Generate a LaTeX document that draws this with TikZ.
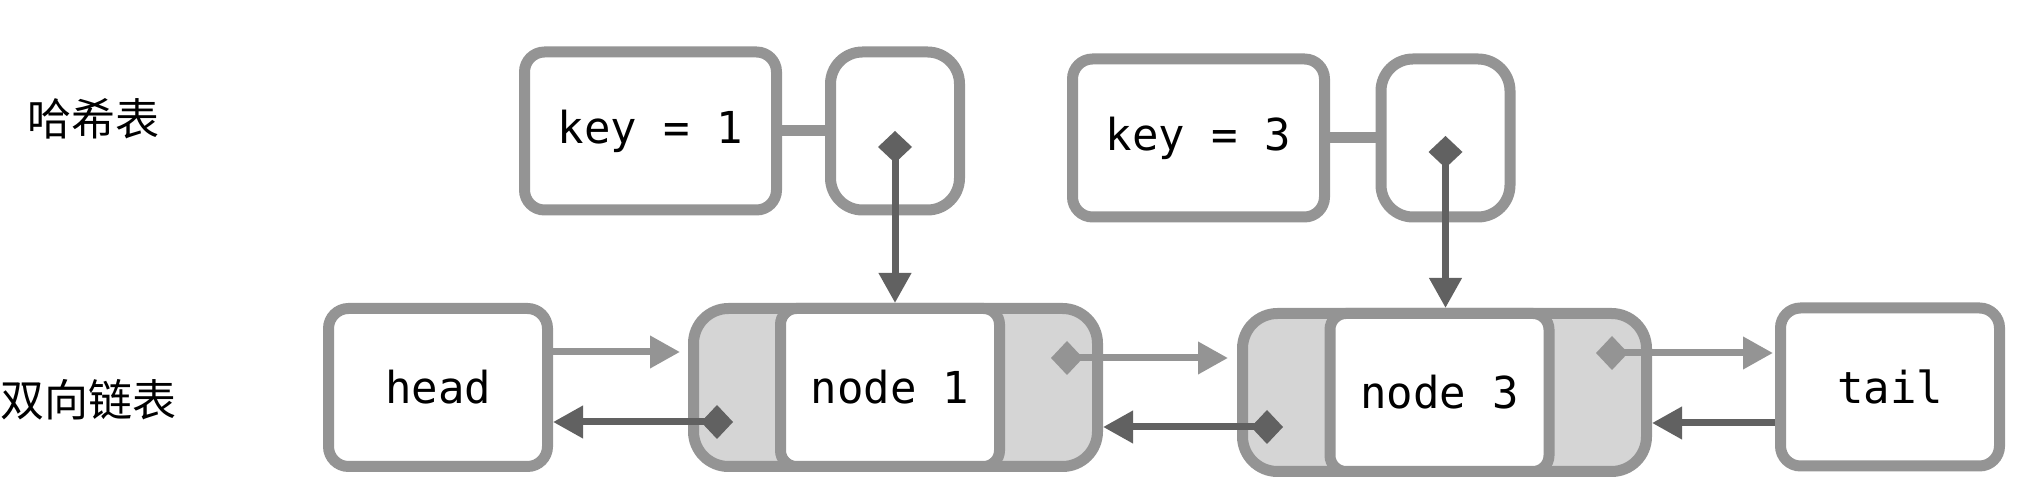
\documentclass[tikz,border=0pt]{standalone}
\usepackage{fontspec}
\usetikzlibrary{arrows.meta,calc}
\newfontfamily\codefont{DejaVu Sans Mono}
\newfontfamily\cjkfont{Noto Sans CJK SC}

\tikzset{
heading/.style={inner sep=0pt,font=\cjkfont\fontsize{22pt}{26pt}\selectfont},
cell/.style={draw={rgb,255:red,148;green,148;blue,148},fill=white,line width=5.5pt,
  rounded corners=10pt,inner sep=0pt,minimum height=79pt,
  font=\codefont\fontsize{22pt}{26pt}\selectfont},
keycell/.style={cell,minimum width=126pt},
ptrcell/.style={cell,minimum width=64.5pt,rounded corners=16pt},
listcell/.style={cell,minimum width=109.5pt},
shell/.style={cell,minimum width=202pt,rounded corners=17.5pt,
  fill={rgb,255:red,213;green,213;blue,213}},
inner/.style={listcell,rounded corners=8pt},
link/.style={draw={rgb,255:red,148;green,148;blue,148},line width=5.5pt},
ptr/.style={draw={rgb,255:red,97;green,97;blue,97},line width=3.5pt},
nextarr/.style={draw={rgb,255:red,148;green,148;blue,148},line width=3.5pt,
  arrows={-Triangle[length=15pt,width=15.5pt]}},
dianext/.style={nextarr,arrows={Diamond[length=16pt,width=17pt]-Triangle[length=15pt,width=15.5pt]}},
prevarr/.style={ptr,arrows={-Triangle[length=15pt,width=15.5pt]}},
diaprev/.style={ptr,arrows={Diamond[length=16pt,width=17pt]-Triangle[length=15pt,width=15.5pt]}}
}

\begin{document}
\begin{tikzpicture}[x=0.5pt,y=0.5pt,yscale=-1,xscale=1]
\useasboundingbox (0,0) rectangle (2018,490);

%Text: row titles
\node[heading] (hash) at (93,119) {哈希表};
\node[heading] (list) at (89,400) {双向链表};

%Shape: hash table entries
\node[keycell] (k1) at (650.5,131) {key = 1};
\node[ptrcell] (p1) at (895,131) {};
\node[keycell] (k3) at (1198.5,138) {key = 3};
\node[ptrcell] (p3) at (1445.5,138) {};
\draw[link] (k1) -- (p1);
\draw[link] (k3) -- (p3);

%Shape: list nodes
\node[listcell] (head) at (438,387.5) {head};
\node[shell] (n1) at (895.5,387.5) {};
\node[inner] (n1in) at (890,387.5) {node 1};
\node[shell] (n3) at (1444.5,392.5) {};
\node[inner] (n3in) at (1439.5,392.5) {node 3};
\node[listcell] (tail) at (1890,387) {tail};

%Arrows: hash table to list
\coordinate (d1) at ($(p1.center)+(0,0)$);
\coordinate (d3) at ($(p3.center)+(0,-2)$);
\draw[diaprev] (d1) -- (d1 |- n1.north);
\draw[diaprev] (d3) -- (d3 |- n3.north);

%Arrows: next pointers
\coordinate (a1) at ($(head.east)+(0,-35.5)$);
\coordinate (a2) at ($(n1.east)+(-52,-29.5)$);
\coordinate (a3) at ($(n3.east)+(-56,-39.5)$);
\draw[nextarr,shorten >=4pt] (a1) -- (a1 -| n1.west);
\draw[dianext,shorten >=4.5pt] (a2) -- (a2 -| n3.west);
\draw[dianext,shorten >=1pt] (a3) -- (a3 -| tail.west);

%Arrows: prev pointers
\coordinate (b1) at ($(n1.west)+(45,34.5)$);
\coordinate (b2) at ($(n3.west)+(46,34.5)$);
\coordinate (b3) at ($(tail.west)+(0,36)$);
\draw[diaprev] (b1) -- (b1 -| head.east);
\draw[diaprev] (b2) -- (b2 -| n1.east);
\draw[prevarr] (b3) -- (b3 -| n3.east);
\end{tikzpicture}
\end{document}
